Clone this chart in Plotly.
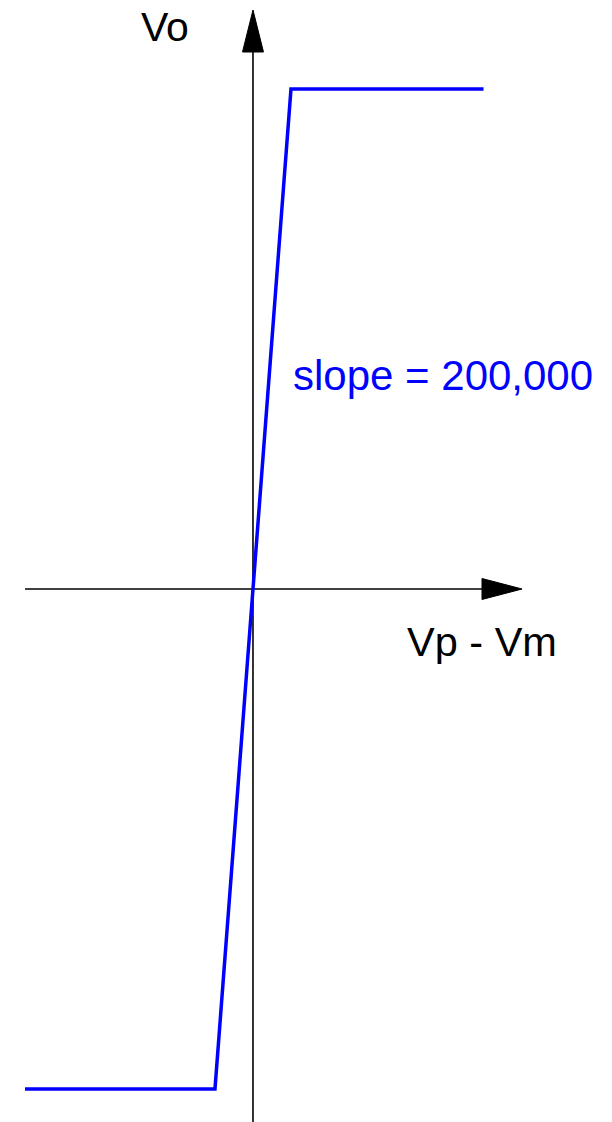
import plotly.graph_objects as go

# Transfer characteristic of an op-amp (open loop)
vd_uV = [-450, -75, 75, 455]      # Vp - Vm in microvolts
vo_V = [-15, -15, 15, 15]         # output voltage in volts
slope_label = "slope = 200,000"
x_label = "Vp - Vm"
y_label = "Vo"

W, H = 612, 1122

# axis ranges (data units): origin at pixel (253, 589)
x_range = [-499.3, 708.6]
y_range = [-15.99, 17.67]

# axis geometry (data units)
x_axis_start = -450
x_arrow_base, x_arrow_tip, x_arrow_half = 452, 531, 0.315
y_axis_start = -16.5
y_arrow_base, y_arrow_tip, y_arrow_half = 16.11, 17.37, 20.7

fig = go.Figure()
fig.add_trace(go.Scatter(x=vd_uV, y=vo_V, mode="lines",
                         line=dict(color="#0000ff", width=3.5),
                         hoverinfo="skip", showlegend=False))

shapes = [
    dict(type="line", xref="x", yref="y", x0=0, x1=0, y0=y_axis_start, y1=y_arrow_base,
         line=dict(color="black", width=1.6), layer="below"),
    dict(type="path", xref="x", yref="y",
         path=f"M {-y_arrow_half},{y_arrow_base} L 0,{y_arrow_tip} L {y_arrow_half},{y_arrow_base} Z",
         fillcolor="black", line=dict(color="black", width=1)),
    dict(type="line", xref="x", yref="y", x0=x_axis_start, x1=x_arrow_base, y0=0, y1=0,
         line=dict(color="black", width=1.6), layer="below"),
    dict(type="path", xref="x", yref="y",
         path=f"M {x_arrow_base},{-x_arrow_half} L {x_arrow_tip},0 L {x_arrow_base},{x_arrow_half} Z",
         fillcolor="black", line=dict(color="black", width=1)),
]


def px(x):
    return x / W


def py(y):
    return 1 - y / H


font = "Liberation Sans, Arial, Helvetica, sans-serif"
annotations = [
    dict(text=y_label, xref="paper", yref="paper", x=px(165), y=py(27),
         xanchor="center", yanchor="middle", showarrow=False, borderpad=0,
         font=dict(family=font, size=41, color="black")),
    dict(text=x_label, xref="paper", yref="paper", x=px(405), y=py(641),
         xanchor="left", yanchor="middle", showarrow=False,
         font=dict(family=font, size=41.5, color="black")),
    dict(text=slope_label, xref="paper", yref="paper", x=px(291), y=py(375),
         xanchor="left", yanchor="middle", showarrow=False,
         font=dict(family=font, size=42, color="#0000ff")),
]

fig.update_layout(
    width=W, height=H,
    margin=dict(l=0, r=0, t=0, b=0),
    paper_bgcolor="white", plot_bgcolor="white",
    xaxis=dict(range=x_range, visible=False, fixedrange=True),
    yaxis=dict(range=y_range, visible=False, fixedrange=True),
    shapes=shapes, annotations=annotations,
)

fig.write_html("out.html",
               config={"displayModeBar": False, "staticPlot": True},
               post_script="document.body.style.margin='0';document.body.style.overflow='hidden';")
